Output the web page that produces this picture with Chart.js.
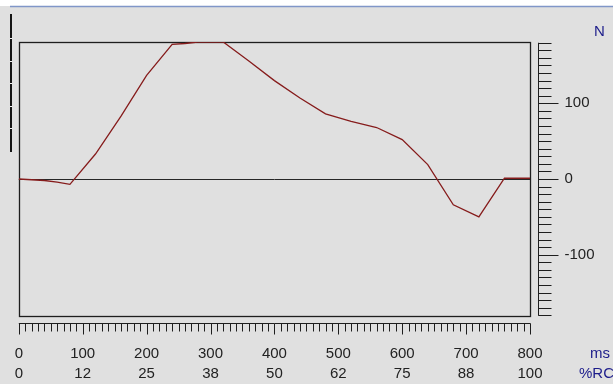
<!DOCTYPE html>
<html>
<head>
<meta charset="utf-8">
<script src="https://cdn.jsdelivr.net/npm/chart.js@4/dist/chart.umd.min.js"></script>
<style>
  html, body { margin: 0; padding: 0; background: #e0e0e0; overflow: hidden; }
  #wrap { position: relative; width: 613px; height: 384px; }
</style>
</head>
<body>
<div id="wrap"><canvas id="c" width="613" height="384"></canvas></div>
<script>
// Force trace over one cycle: time (ms) and force (N)
const timeMs = [0, 20, 40, 60, 80, 120, 160, 200, 240, 260, 280, 300, 320, 360, 400, 440, 480, 520, 560, 600, 640, 680, 720, 760, 800];
const forceN = [0, -1, -2, -4, -7, 33, 83, 137, 178, 179, 181, 181, 181, 156, 130, 107, 86, 76, 68, 52, 19, -34, -50, 1, 1];

// Axis labels
const msTicks = [0, 100, 200, 300, 400, 500, 600, 700, 800];
const rcTicks = ['0', '12', '25', '38', '50', '62', '75', '88', '100'];
const forceTicks = [-100, 0, 100];
const forceRange = [-181, 181];
const rulerRange = [-180, 180];
const unitForce = 'N';
const unitTime = 'ms';
const unitCycle = '%RC';

const FONT = "'Liberation Sans Narrow', 'Liberation Sans', Arial, sans-serif";
const LABEL_COLOR = '#222222';
const UNIT_COLOR = '#1c1c8a';

const crisp = v => Math.round(v) + 0.5;

const framePlugin = {
  id: 'frame',
  beforeDraw(chart) {
    const ctx = chart.ctx;
    ctx.save();
    ctx.fillStyle = '#e0e0e0';
    ctx.fillRect(0, 0, chart.width, chart.height);
    // window strip along the top
    ctx.fillStyle = '#ffffff';
    ctx.fillRect(0, 0, chart.width, 6);
    ctx.strokeStyle = '#8096c8';
    ctx.lineWidth = 1.5;
    ctx.beginPath();
    ctx.moveTo(10, 6.5);
    ctx.lineTo(chart.width, 6.5);
    ctx.stroke();
    // splitter bar on the left edge
    ctx.strokeStyle = '#151515';
    ctx.lineWidth = 2;
    ctx.beginPath();
    ctx.moveTo(11, 14);
    ctx.lineTo(11, 152);
    ctx.stroke();
    ctx.fillStyle = '#f4f4f4';
    [38, 61, 83, 106, 128].forEach(y => ctx.fillRect(10, y, 2, 1));
    ctx.restore();
  },
  beforeDatasetsDraw(chart) {
    const { ctx, chartArea: a, scales: { y } } = chart;
    ctx.save();
    ctx.strokeStyle = '#1e1e1e';
    ctx.lineWidth = 1.3;
    ctx.strokeRect(crisp(a.left), crisp(a.top), Math.round(a.right - a.left), Math.round(a.bottom - a.top));
    const y0 = crisp(y.getPixelForValue(0));
    ctx.lineWidth = 1;
    ctx.strokeStyle = '#262626';
    ctx.beginPath();
    ctx.moveTo(a.left, y0);
    ctx.lineTo(a.right, y0);
    ctx.stroke();
    ctx.restore();
  },
  afterDraw(chart) {
    const { ctx, chartArea: a, scales: { x, y } } = chart;
    ctx.save();
    ctx.strokeStyle = '#1e1e1e';
    ctx.lineWidth = 1;

    // force ruler on the right
    const rx = crisp(a.right + 8);
    ctx.beginPath();
    ctx.moveTo(rx, y.getPixelForValue(rulerRange[1]));
    ctx.lineTo(rx, y.getPixelForValue(rulerRange[0]) + 0.5);
    for (let v = rulerRange[0]; v <= rulerRange[1]; v += 10) {
      const py = crisp(y.getPixelForValue(v));
      ctx.moveTo(rx, py);
      ctx.lineTo(rx + (v % 100 === 0 ? 20 : 13), py);
    }
    ctx.stroke();

    // time ruler below the plot
    const ry = crisp(a.bottom + 7);
    ctx.beginPath();
    ctx.moveTo(x.getPixelForValue(x.min), ry);
    ctx.lineTo(x.getPixelForValue(x.max) + 0.5, ry);
    for (let v = x.min; v <= x.max; v += 10) {
      const px = crisp(x.getPixelForValue(v));
      ctx.moveTo(px, ry);
      ctx.lineTo(px, ry + (v % 100 === 0 ? 11 : 8));
    }
    ctx.stroke();

    // unit captions
    ctx.fillStyle = UNIT_COLOR;
    ctx.font = '15px ' + FONT;
    ctx.textBaseline = 'middle';
    ctx.textAlign = 'left';
    ctx.fillText(unitForce, 594, 32);
    ctx.fillText(unitTime, 590, 354);
    ctx.fillText(unitCycle, 579, 374);
    ctx.restore();
  }
};

new Chart(document.getElementById('c'), {
  type: 'line',
  data: {
    datasets: [{
      data: timeMs.map((t, i) => ({ x: t, y: forceN[i] })),
      borderColor: '#861c1c',
      borderWidth: 1.3,
      pointRadius: 0,
      tension: 0,
      fill: false
    }]
  },
  options: {
    responsive: false,
    animation: false,
    devicePixelRatio: 1,
    layout: { padding: { left: 18.8, top: 42, right: 0, bottom: 0 } },
    plugins: { legend: { display: false }, tooltip: { enabled: false } },
    scales: {
      x: {
        type: 'linear',
        position: 'bottom',
        min: 0,
        max: 800,
        afterBuildTicks: s => { s.ticks = msTicks.map(v => ({ value: v })); },
        afterFit: s => { s.height = 68; s.paddingLeft = 0; s.paddingRight = 0; },
        grid: { display: false, drawTicks: false },
        border: { display: false },
        ticks: {
          autoSkip: false,
          maxRotation: 0,
          minRotation: 0,
          padding: 28,
          color: LABEL_COLOR,
          font: { family: FONT, size: 15, lineHeight: '20px' },
          callback: v => [String(v), rcTicks[msTicks.indexOf(v)]]
        }
      },
      y: {
        type: 'linear',
        position: 'right',
        min: forceRange[0],
        max: forceRange[1],
        afterBuildTicks: s => { s.ticks = forceTicks.map(v => ({ value: v })); },
        afterFit: s => { s.width = 83; s.paddingTop = 0; s.paddingBottom = 0; },
        grid: { display: false, drawTicks: false },
        border: { display: false },
        ticks: {
          padding: 34.5,
          color: LABEL_COLOR,
          font: { family: FONT, size: 15 },
          callback: v => String(v)
        }
      }
    }
  },
  plugins: [framePlugin]
});
</script>
</body>
</html>
